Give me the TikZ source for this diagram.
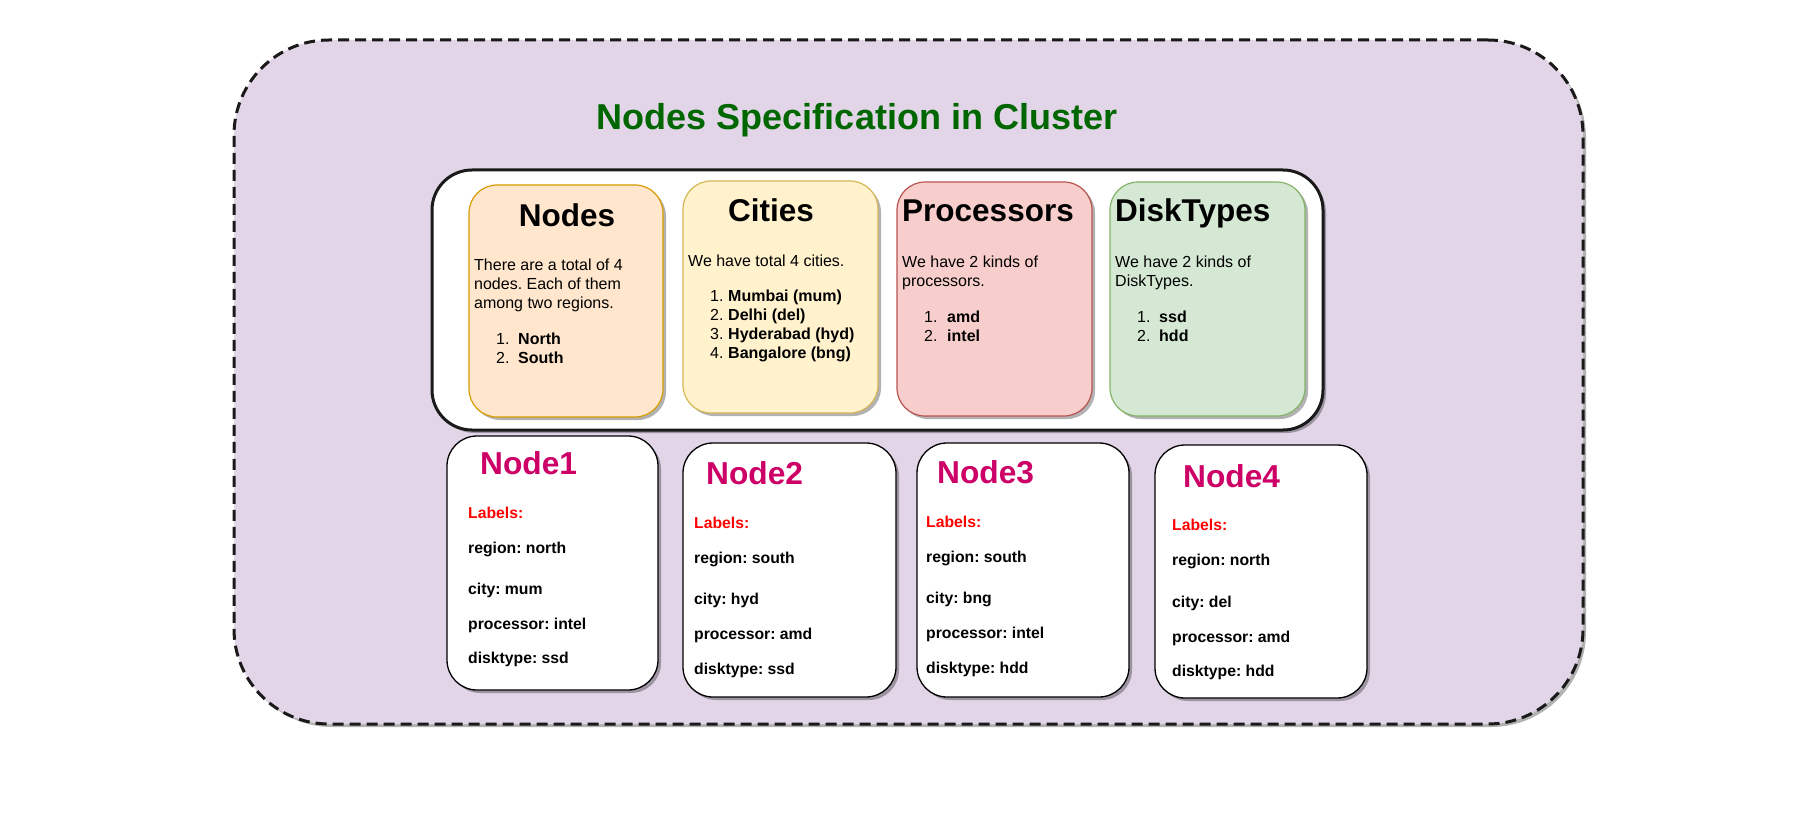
\documentclass[tikz,border=0pt]{standalone}
\usepackage{fontspec}
\setmainfont{Liberation Sans}
\usetikzlibrary{shadows}
\frenchspacing
\definecolor{bgpurple}{HTML}{E1D5E7}
\definecolor{titlegreen}{HTML}{006600}
\definecolor{nodepink}{HTML}{CC0066}
\definecolor{orfill}{HTML}{FFE6CC}\definecolor{ordraw}{HTML}{D79B00}
\definecolor{yefill}{HTML}{FFF2CC}\definecolor{yedraw}{HTML}{D6B656}
\definecolor{refill}{HTML}{F8CECC}\definecolor{redraw}{HTML}{B85450}
\definecolor{grfill}{HTML}{D5E8D4}\definecolor{grdraw}{HTML}{82B366}
\definecolor{ink}{HTML}{1A1A1A}
\tikzset{
  shadowed/.style={drop shadow={shadow xshift=3pt,shadow yshift=-3pt,opacity=.3,fill=black}},
  outerbox/.style={rectangle,rounded corners=95pt,fill=bgpurple,draw=ink,line width=3pt,dash pattern=on 11pt off 6pt,inner sep=0pt,outer sep=0pt,shadowed},
  innerbox/.style={rectangle,rounded corners=40pt,fill=white,draw=ink,line width=3pt,inner sep=0pt,outer sep=0pt,shadowed},
  catbox/.style={rectangle,rounded corners=28pt,line width=1.2pt,inner sep=0pt,outer sep=0pt,shadowed},
  cardbox/.style={rectangle,rounded corners=30pt,fill=white,draw=black,line width=1.3pt,inner sep=0pt,outer sep=0pt,shadowed},
  head/.style={inner sep=0pt,font=\fontsize{31.5}{36}\selectfont\bfseries},
  body/.style={inner sep=0pt,anchor=base west,font=\fontsize{16}{19}\selectfont},
  cardtitle/.style={inner sep=0pt,anchor=base west,text=nodepink,font=\fontsize{31.7}{36}\selectfont\bfseries},
  lbl/.style={inner sep=0pt,anchor=base west,font=\fontsize{15.75}{19}\selectfont\bfseries},
}
\newcommand\numitem[3]{\makebox[#1][l]{#2}\textbf{#3}}
\begin{document}
\begin{tikzpicture}[x=1pt,y=-1pt]
\useasboundingbox (0,0) rectangle (1799,837);
\fill[white] (0,0) rectangle (1799,837);

\node[outerbox,minimum width=1349pt,minimum height=684pt] (outer) at (908.5,382) {};
\node[inner sep=0pt,anchor=base,text=titlegreen,font=\fontsize{36}{40}\selectfont\bfseries] (title) at (857,130) {Nodes Specification in Cluster};

\node[innerbox,minimum width=891pt,minimum height=260pt] (inner) at (877.5,300) {};

% category boxes
\node[catbox,fill=orfill,draw=ordraw,minimum width=194pt,minimum height=232pt] (nodesbox) at (566,301) {};
\node[catbox,fill=yefill,draw=yedraw,minimum width=195pt,minimum height=232pt] (citiesbox) at (780.5,297) {};
\node[catbox,fill=refill,draw=redraw,minimum width=195pt,minimum height=234pt] (procbox) at (994.5,299) {};
\node[catbox,fill=grfill,draw=grdraw,minimum width=195pt,minimum height=234pt] (diskbox) at (1207.5,299) {};

\node[head,anchor=base] (nodeshead) at (567,227) {Nodes};
\node[body] (nodestext) at (474,270) {\parbox[t]{190pt}{There are a total of 4\\nodes. Each of them\\among two regions.}};
\node[body] (nodeslist) at (496,344) {\parbox[t]{160pt}{\numitem{22pt}{1.}{North}\\\numitem{22pt}{2.}{South}}};

\node[head,anchor=base] (citieshead) at (771,222) {Cities};
\node[body] (citiestext) at (688,266) {We have total 4 cities.};
\node[body] (citieslist) at (710,301) {\parbox[t]{170pt}{\fontsize{16}{19.3}\selectfont\numitem{18pt}{1.}{Mumbai (mum)}\\\numitem{18pt}{2.}{Delhi (del)}\\\numitem{18pt}{3.}{Hyderabad (hyd)}\\\numitem{18pt}{4.}{Bangalore (bng)}}};

\node[head,anchor=base west] (prochead) at (902,222) {Processors};
\node[body] (proctext) at (902,267) {\parbox[t]{190pt}{We have 2 kinds of\\processors.}};
\node[body] (proclist) at (924,322) {\parbox[t]{160pt}{\numitem{23pt}{1.}{amd}\\\numitem{23pt}{2.}{intel}}};

\node[head,anchor=base west] (diskhead) at (1115,222) {DiskTypes};
\node[body] (disktext) at (1115,267) {\parbox[t]{190pt}{We have 2 kinds of\\DiskTypes.}};
\node[body] (disklist) at (1137,322) {\parbox[t]{160pt}{\numitem{22pt}{1.}{ssd}\\\numitem{22pt}{2.}{hdd}}};

% node cards
\node[cardbox,minimum width=211pt,minimum height=254pt] (card1) at (552.5,563) {};
\node[cardbox,minimum width=213pt,minimum height=254pt] (card2) at (789.5,570) {};
\node[cardbox,minimum width=212pt,minimum height=254pt] (card3) at (1023,570) {};
\node[cardbox,minimum width=212pt,minimum height=253pt] (card4) at (1261,571.5) {};

\node[cardtitle] (c1t) at (480,474) {Node1};
\node[lbl,text=red] (c1l) at (468,518) {Labels:};
\node[lbl] (c1r) at (468,553) {region: north};
\node[lbl] (c1c) at (468,594) {city: mum};
\node[lbl] (c1p) at (468,629) {processor: intel};
\node[lbl] (c1d) at (468,663) {disktype: ssd};

\node[cardtitle] (c2t) at (706,484) {Node2};
\node[lbl,text=red] (c2l) at (694,528) {Labels:};
\node[lbl] (c2r) at (694,563) {region: south};
\node[lbl] (c2c) at (694,604) {city: hyd};
\node[lbl] (c2p) at (694,639) {processor: amd};
\node[lbl] (c2d) at (694,674) {disktype: ssd};

\node[cardtitle] (c3t) at (937,483) {Node3};
\node[lbl,text=red] (c3l) at (926,527) {Labels:};
\node[lbl] (c3r) at (926,562) {region: south};
\node[lbl] (c3c) at (926,603) {city: bng};
\node[lbl] (c3p) at (926,638) {processor: intel};
\node[lbl] (c3d) at (926,673) {disktype: hdd};

\node[cardtitle] (c4t) at (1183,487) {Node4};
\node[lbl,text=red] (c4l) at (1172,530) {Labels:};
\node[lbl] (c4r) at (1172,565) {region: north};
\node[lbl] (c4c) at (1172,607) {city: del};
\node[lbl] (c4p) at (1172,642) {processor: amd};
\node[lbl] (c4d) at (1172,676) {disktype: hdd};
\end{tikzpicture}
\end{document}
